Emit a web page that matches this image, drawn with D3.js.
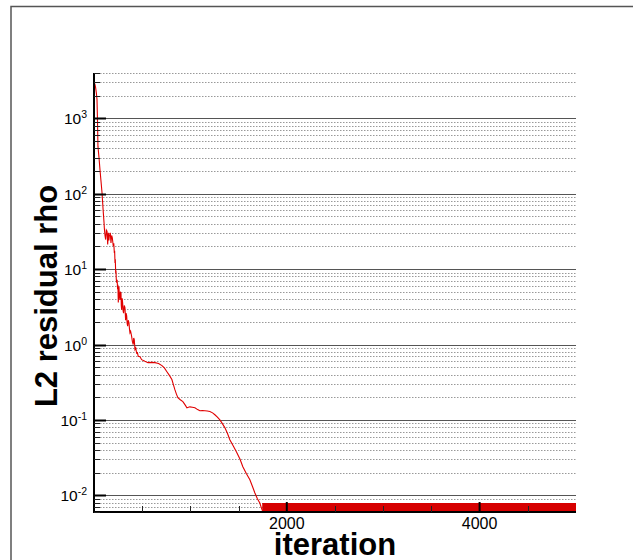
<!DOCTYPE html>
<html>
<head>
<meta charset="utf-8">
<script src="https://cdn.jsdelivr.net/npm/d3@7"></script>
<style>
html,body{margin:0;padding:0;background:#fff;}
svg{display:block;}
</style>
</head>
<body>
<svg id="chart" width="638" height="560"></svg>
<script>
// ---- data ----
const iterations = [0, 8, 16, 24, 31, 36, 41, 52, 62, 72, 83, 95, 104, 107, 114, 121, 128, 135, 142, 149, 154, 159, 169, 176, 183, 190, 200, 205, 211, 214, 218, 221, 225, 228, 231, 235, 240, 245, 248, 252, 259, 263, 269, 274, 280, 283, 287, 292, 297, 302, 307, 314, 321, 328, 333, 339, 344, 349, 355, 363, 368, 373, 380, 390, 398, 407, 412, 418, 425, 433, 442, 450, 459, 477, 494, 528, 560, 600, 632, 670, 705, 730, 756, 782, 808, 825, 839, 855, 870, 895, 922, 945, 964, 980, 995, 1020, 1047, 1075, 1098, 1125, 1150, 1175, 1202, 1230, 1254, 1280, 1306, 1330, 1357, 1385, 1409, 1445, 1482, 1515, 1544, 1580, 1617, 1645, 1668, 1695, 1720, 1740, 1752];
const residuals = [2200, 2900, 2600, 2200, 1790, 970, 425, 300, 210, 150, 104, 60, 41.6, 35.3, 28, 24.7, 33, 31.8, 21.2, 30.3, 24, 27.4, 30.3, 22.3, 28, 26.1, 20.1, 22, 16.4, 17.5, 12.1, 13.5, 8.9, 9.6, 7.4, 6.6, 7.2, 5.4, 6.2, 3.6, 5.9, 4.4, 3.9, 5.0, 4.8, 3.3, 2.9, 4.1, 3.6, 2.8, 2.6, 3.3, 3.1, 2.1, 2.6, 2.4, 1.9, 1.75, 2.1, 1.94, 1.6, 1.43, 1.5, 1.29, 1.1, 1.0, 1.22, 1.15, 0.86, 0.9, 0.77, 0.78, 0.70, 0.69, 0.63, 0.6, 0.575, 0.58, 0.575, 0.56, 0.525, 0.49, 0.436, 0.39, 0.343, 0.29, 0.252, 0.22, 0.197, 0.185, 0.175, 0.158, 0.145, 0.147, 0.149, 0.147, 0.145, 0.137, 0.132, 0.133, 0.132, 0.131, 0.129, 0.124, 0.117, 0.109, 0.1, 0.09, 0.079, 0.066, 0.0545, 0.045, 0.0367, 0.03, 0.0239, 0.0195, 0.0161, 0.013, 0.0108, 0.009, 0.0079, 0.0066, 0.006];
// converged oscillation band (dense fluctuation drawn as filled band)
const bandIterations = [1745, 5000];
const bandUpper = [0.0079, 0.0079];
const bandLower = [0.006, 0.006];

const xDomain = [0, 5000];
const yDomain = [0.006, 4000];
const xMajorTicks = [2000, 4000];
const xTickLabels = ["2000", "4000"];
const xMinorTicks = [500, 1000, 1500, 2500, 3000, 3500, 4500];
const yDecadeExponents = [-2, -1, 0, 1, 2, 3];
const yTickLabelExps = ["-2", "-1", "0", "1", "2", "3"];
const xTitle = "iteration";
const yTitle = "L2 residual rho";

// ---- layout ----
const svg = d3.select("#chart");
const L = 94, R = 576, T = 73, B = 512;
const x = d3.scaleLinear().domain(xDomain).range([L, R]);
const y = d3.scaleLog().domain(yDomain).range([B, T]);

// outer frame
svg.append("path").attr("d", "M11,560 V6.5 H633").attr("fill", "none")
  .attr("stroke", "#555").attr("stroke-width", 1.5);

// minor grid values
const minorVals = [];
for (let e = -3; e <= 3; e++) {
  for (let m = 2; m <= 9; m++) {
    const v = m * Math.pow(10, e);
    if (v >= yDomain[0] * 0.999 && v <= yDomain[1] * 1.001) minorVals.push(v);
  }
}
const majorVals = yDecadeExponents.map(e => Math.pow(10, e));

const grid = svg.append("g");
grid.selectAll("line.minor").data(minorVals).join("line")
  .attr("class", "minor")
  .attr("x1", L).attr("x2", R)
  .attr("y1", d => Math.round(y(d)) + 0.5).attr("y2", d => Math.round(y(d)) + 0.5)
  .attr("stroke", "#999").attr("stroke-width", 1)
  .attr("stroke-dasharray", "1.5,1.5");
grid.selectAll("line.major").data(majorVals).join("line")
  .attr("class", "major")
  .attr("x1", L).attr("x2", R)
  .attr("y1", d => Math.round(y(d)) + 0.5).attr("y2", d => Math.round(y(d)) + 0.5)
  .attr("stroke", "#555").attr("stroke-width", 1.2);

// clip
svg.append("clipPath").attr("id", "clip").append("rect")
  .attr("x", L).attr("y", T - 2).attr("width", R - L).attr("height", B - T + 2);

const plot = svg.append("g").attr("clip-path", "url(#clip)");

// converged band
const bandData = bandIterations.map((it, i) => ({it, hi: bandUpper[i], lo: bandLower[i]}));
plot.append("path").datum(bandData)
  .attr("d", d3.area().x(d => x(d.it)).y0(d => y(d.lo)).y1(d => y(d.hi)))
  .attr("fill", "#d60000");

// residual line
const lineData = iterations.map((it, i) => ({it, v: residuals[i]}));
plot.append("path").datum(lineData)
  .attr("d", d3.line().x(d => x(d.it)).y(d => y(d.v)))
  .attr("fill", "none").attr("stroke", "#e00000").attr("stroke-width", 1.1);

// axes lines
svg.append("line").attr("x1", L).attr("x2", L).attr("y1", T).attr("y2", B + 1)
  .attr("stroke", "#000").attr("stroke-width", 2);
svg.append("line").attr("x1", L - 1).attr("x2", R).attr("y1", B).attr("y2", B)
  .attr("stroke", "#000").attr("stroke-width", 2);

// y ticks
svg.append("g").selectAll("line").data(majorVals).join("line")
  .attr("x1", L).attr("x2", L + 12)
  .attr("y1", d => Math.round(y(d)) + 0.5).attr("y2", d => Math.round(y(d)) + 0.5)
  .attr("stroke", "#000").attr("stroke-width", 2);
svg.append("g").selectAll("line").data(minorVals).join("line")
  .attr("x1", L).attr("x2", L + 6)
  .attr("y1", d => Math.round(y(d)) + 0.5).attr("y2", d => Math.round(y(d)) + 0.5)
  .attr("stroke", "#222").attr("stroke-width", 1);

// x ticks
svg.append("g").selectAll("line").data(xMajorTicks).join("line")
  .attr("x1", d => x(d)).attr("x2", d => x(d))
  .attr("y1", B).attr("y2", B - 10)
  .attr("stroke", "#000").attr("stroke-width", 2);
svg.append("g").selectAll("line").data(xMinorTicks).join("line")
  .attr("x1", d => Math.round(x(d)) + 0.5).attr("x2", d => Math.round(x(d)) + 0.5)
  .attr("y1", B).attr("y2", B - 6)
  .attr("stroke", "#222").attr("stroke-width", 1);

// x tick labels
svg.append("g").selectAll("text").data(xMajorTicks).join("text")
  .attr("x", d => x(d)).attr("y", 529)
  .attr("text-anchor", "middle")
  .attr("font-family", "Liberation Sans, Arial, sans-serif")
  .attr("font-size", 16).attr("fill", "#000")
  .text((d, i) => xTickLabels[i]);

// y tick labels
const yl = svg.append("g").selectAll("text").data(majorVals).join("text")
  .attr("x", 87).attr("y", d => y(d) + 6)
  .attr("text-anchor", "end")
  .attr("font-family", "Liberation Sans, Arial, sans-serif")
  .attr("font-size", 15.5).attr("fill", "#000");
yl.append("tspan").text("10");
yl.append("tspan").attr("dy", -6).attr("font-size", 10.5).text((d, i) => yTickLabelExps[i]);

// titles
svg.append("text").attr("x", 335).attr("y", 555)
  .attr("text-anchor", "middle")
  .attr("font-family", "Liberation Sans, Arial, sans-serif")
  .attr("font-weight", "bold").attr("font-size", 31).attr("fill", "#000")
  .text(xTitle);
svg.append("text")
  .attr("transform", "translate(57,296) rotate(-90)")
  .attr("text-anchor", "middle")
  .attr("font-family", "Liberation Sans, Arial, sans-serif")
  .attr("font-weight", "bold").attr("font-size", 31).attr("fill", "#000")
  .text(yTitle);
</script>
</body>
</html>
